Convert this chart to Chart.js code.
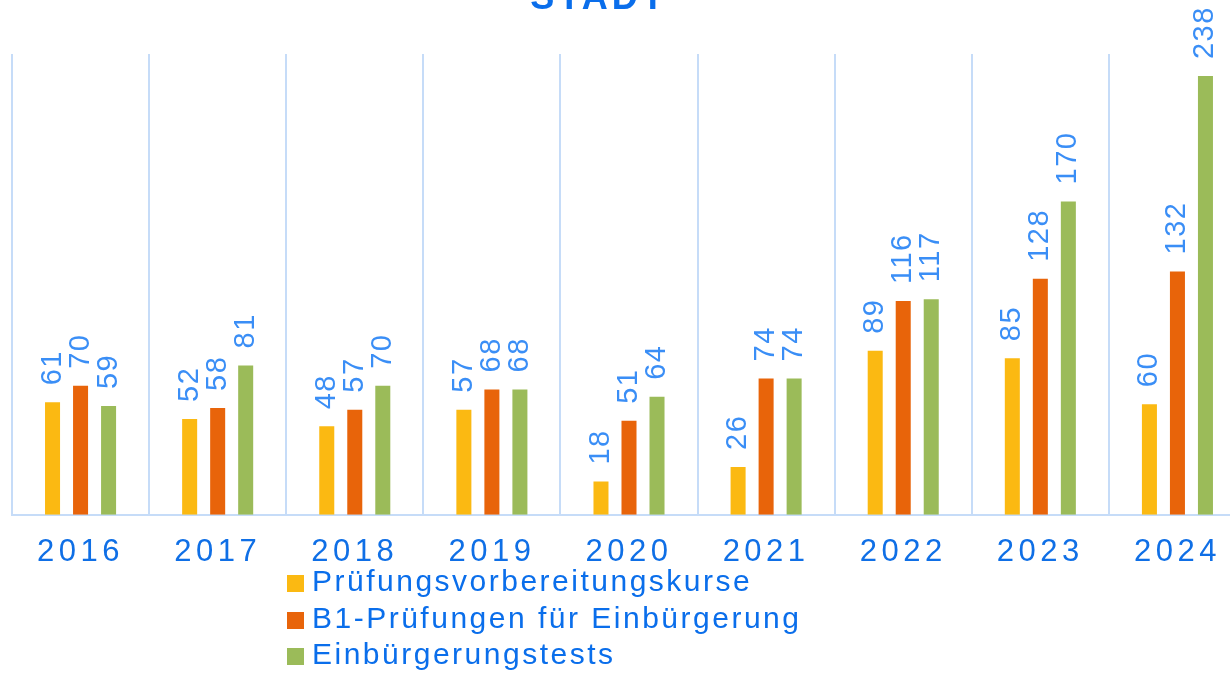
<!DOCTYPE html>
<html>
<head>
<meta charset="utf-8">
<script src="https://cdn.jsdelivr.net/npm/chart.js@4.4.1/dist/chart.umd.min.js"></script>
<style>
  html, body { margin: 0; padding: 0; background: #fff; overflow: hidden; width: 1230px; height: 673px; }
  body { position: relative; font-family: "Liberation Sans", Arial, sans-serif; }
  #wrap { position: absolute; left: 0; top: 0; width: 1260px; height: 673px; }
  #title {
    position: absolute; left: 599px; top: -21px; transform: translateX(-50%);
    font-size: 36px; font-weight: bold; letter-spacing: 4px; line-height: 36px;
    color: #0a6eeb; white-space: nowrap;
  }
  #legend { position: absolute; left: 287px; top: 563px; }
  .item { font-size: 30px; line-height: 36.5px; letter-spacing: 2.5px; color: #0a6eeb; white-space: nowrap; }
  .box { display: inline-block; width: 17px; height: 17px; margin-right: 8px; vertical-align: -1px; }
</style>
</head>
<body>
<div id="wrap"><canvas id="chart" width="1260" height="673"></canvas></div>
<div id="title">STADT</div>
<div id="legend"></div>
<script>
const years = ["2016", "2017", "2018", "2019", "2020", "2021", "2022", "2023", "2024"];
const seriesNames = ["Prüfungsvorbereitungskurse", "B1-Prüfungen für Einbürgerung", "Einbürgerungstests"];
const kurse = [61, 52, 48, 57, 18, 26, 89, 85, 60];
const b1Pruefungen = [70, 58, 57, 68, 51, 74, 116, 128, 132];
const tests = [59, 81, 70, 68, 64, 74, 117, 170, 238];
const colors = ["#fbb912", "#e8640a", "#9bbb59"];

const ctx = document.getElementById("chart").getContext("2d");

//rotated value labels above each bar
const valueLabels = {
  id: "valueLabels",
  beforeDraw(chart) {
    chart.ctx.letterSpacing = "4.5px";
  },
  beforeDatasetsDraw(chart) {
    chart.ctx.letterSpacing = "0px";
  },
  afterDatasetsDraw(chart) {
    const c = chart.ctx;
    c.save();
    c.letterSpacing = "1.5px";
    c.font = '29px "Liberation Sans", Arial, sans-serif';
    c.fillStyle = "#3a8ef6";
    c.textAlign = "left";
    c.textBaseline = "middle";
    chart.data.datasets.forEach((ds, i) => {
      chart.getDatasetMeta(i).data.forEach((bar, j) => {
        c.save();
        c.translate(bar.x, bar.y - 17);
        c.rotate(-Math.PI / 2);
        c.fillText(String(ds.data[j]), 0, 0);
        c.restore();
      });
    });
    c.restore();
  },
};

const data = {
  labels: years,
  datasets: [kurse, b1Pruefungen, tests].map((values, i) => ({
    label: seriesNames[i],
    data: values,
    backgroundColor: colors[i],
    borderWidth: 0,
    categoryPercentage: 0.613,
    barPercentage: 0.536,
  })),
};

new Chart(ctx, {
  type: "bar",
  data: data,
  options: {
    responsive: false,
    animation: false,
    layout: { padding: { left: 12, right: 14, top: 54, bottom: 83 } },
    plugins: {
      legend: { display: false },
      title: { display: false },
      tooltip: { enabled: false },
    },
    scales: {
      x: {
        grid: { offset: true, color: "#c6dcf8", lineWidth: 2, drawTicks: false },
        border: { display: true, color: "#c6dcf8", width: 2 },
        ticks: {
          autoSkip: false,
          maxRotation: 0,
          padding: 19,
          color: "#0f6fe6",
          font: { family: '"Liberation Sans", Arial, sans-serif', size: 31 },
        },
      },
      y: {
        display: false,
        min: 0,
        max: 250,
      },
    },
  },
  plugins: [valueLabels],
});

//legend as stacked rows
const legend = document.getElementById("legend");
seriesNames.forEach((name, i) => {
  const row = document.createElement("div");
  row.className = "item";
  const box = document.createElement("span");
  box.className = "box";
  box.style.background = colors[i];
  row.appendChild(box);
  row.appendChild(document.createTextNode(name));
  legend.appendChild(row);
});
</script>
</body>
</html>
